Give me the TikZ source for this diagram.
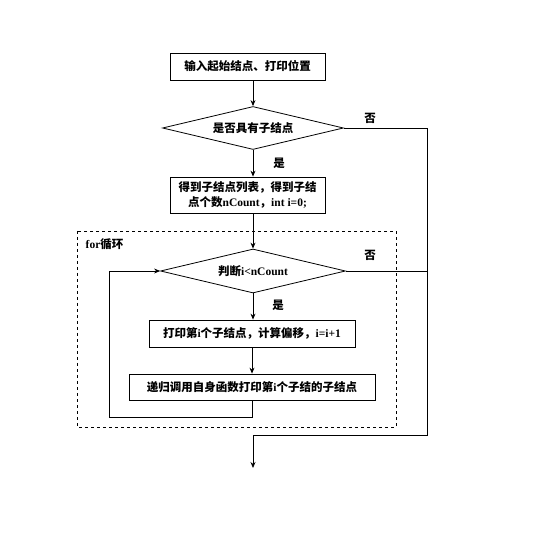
\documentclass[tikz,border=0pt]{standalone}
\usepackage{fontspec}
\setmainfont{Liberation Serif}
\newfontfamily\cjk{Noto Sans CJK SC}
\usetikzlibrary{shapes.geometric,arrows.meta}
\newcommand\zh[1]{{\cjk #1}}

\begin{document}
\begin{tikzpicture}[x=1pt,y=-1pt,line width=0.8pt,
  font=\fontsize{11.5}{15}\selectfont\bfseries,
  stepbox/.style={draw,rectangle,inner sep=0pt},
  testbox/.style={draw,diamond,inner sep=0pt,aspect=4.2},
  arr/.style={-{Stealth[length=6pt,width=5pt]}}]
  \useasboundingbox (0,0) rectangle (546,534);
  % for loop frame
  \draw[dashed] (77,231) rectangle (396,427);
  \node[anchor=west] (forlbl) at (82,244) {for\zh{循环}};
  % steps and tests
  \node[stepbox,minimum width=155,minimum height=27] (input) at (247.5,66.5) {\zh{输入起始结点、打印位置}};
  \node[testbox,minimum width=181,minimum height=43] (haschild) at (253,128) {\zh{是否具有子结点}};
  \node[stepbox,minimum width=155,minimum height=36,align=center] (getlist) at (247.5,195)
    {\zh{得到子结点列表，得到子结}\\\zh{点个数}nCount\zh{，}int i=0;};
  \node[testbox,minimum width=185,minimum height=44] (cmp) at (253,271) {\zh{判断}i<nCount};
  \node[stepbox,minimum width=206,minimum height=27] (print) at (252,333.5) {\zh{打印第}i\zh{个子结点，计算偏移，}i=i+1};
  \node[stepbox,minimum width=246,minimum height=26] (recur) at (252,387) {\zh{递归调用自身函数打印第}i\zh{个子结的子结点}};
  % labels
  \node (no1) at (370,118) {\zh{否}};
  \node (yes1) at (279,163) {\zh{是}};
  \node (no2) at (370,255) {\zh{否}};
  \node (yes2) at (278,305) {\zh{是}};
  % helper points
  \coordinate (rtop) at (427,128);
  \coordinate (rbot) at (427,435);
  \coordinate (join) at (253,435);
  \coordinate (finish) at (253,468);
  \coordinate (lpb) at (252,417);
  \coordinate (lpl) at (109,417);
  % connectors
  \draw[arr] (input.south -| haschild.north) -- (haschild.north);
  \draw[arr] (haschild.south) -- (haschild.south |- getlist.north);
  \draw[arr] (getlist.south -| cmp.north) -- (cmp.north);
  \draw[arr] (cmp.south) -- (cmp.south |- print.north);
  \draw[arr] (print.south) -- (recur.north);
  \draw (haschild.east) -- (rtop) -- (rbot) -- (join);
  \draw (cmp.east) -- (cmp.east -| rtop);
  \draw[arr] (join) -- (finish);
  \draw[arr] (recur.south) -- (lpb) -- (lpl) -- (lpl |- cmp.west) -- (cmp.west);
\end{tikzpicture}
\end{document}
